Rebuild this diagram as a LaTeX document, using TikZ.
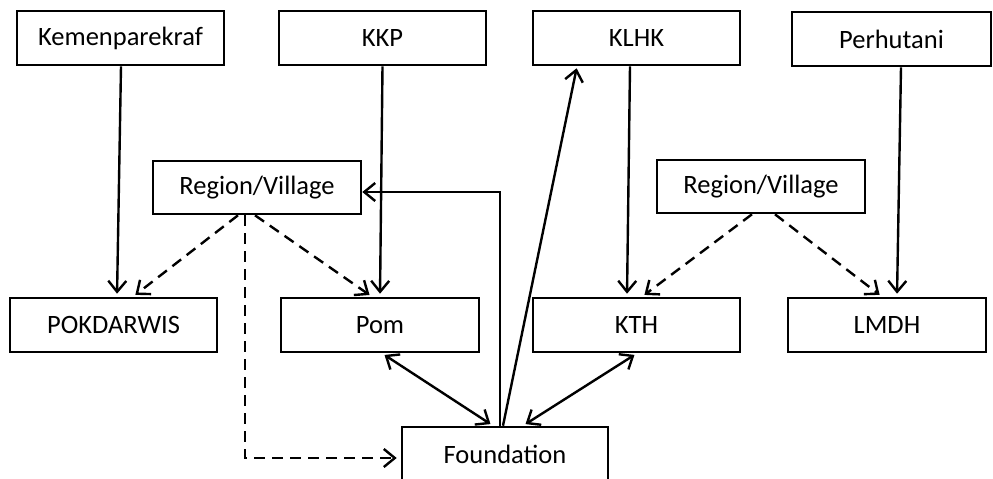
\documentclass[tikz,border=0pt]{standalone}
\usepackage{fontspec}
\setmainfont{Carlito}
\usetikzlibrary{arrows.meta}
\begin{document}
\begin{tikzpicture}[x=1pt,y=-1pt,
  box/.style={draw=black,line width=2.6pt,rectangle,minimum width=207pt,minimum height=54pt,inner sep=0pt,font=\fontsize{26.5}{30}\selectfont},
  conn/.style={line width=2.4pt,-{Straight Barb[length=11pt,width=18pt]}},
  bi/.style={line width=2.4pt,{Straight Barb[length=11pt,width=18pt]}-{Straight Barb[length=11pt,width=18pt]}},
  dsh/.style={conn,dash pattern=on 11pt off 7pt}]
\useasboundingbox (0,0) rectangle (993,479);
% top row
\node[box] (kem) at (120.5,38) {Kemenparekraf};
\node[box] (kkp) at (382.5,38) {KKP};
\node[box] (klhk) at (636.5,38) {KLHK};
\node[box,minimum width=199pt] (perh) at (891.5,39) {Perhutani};
% region/village
\node[box,minimum width=208pt,minimum height=53pt] (regL) at (257,187.5) {Region/Village};
\node[box,minimum width=208pt,minimum height=53pt] (regR) at (761,186.5) {Region/Village};
% lower row
\node[box] (pok) at (113.5,325) {POKDARWIS};
\node[box,minimum width=198pt] (pom) at (380,325) {Pom};
\node[box] (kth) at (636.5,325) {KTH};
\node[box,minimum width=198pt] (lmdh) at (887,325) {LMDH};
% foundation
\node[box,minimum width=206pt] (found) at (505,454) {Foundation};
% solid vertical arrows
\draw[conn,shorten >=3pt] ([xshift=0.5pt]kem.south) -- ([xshift=3.5pt]pok.north);
\draw[conn,shorten >=3pt] (kkp.south) -- (pom.north);
\draw[conn,shorten >=3pt] ([xshift=-6.5pt]klhk.south) -- ([xshift=-9.5pt]kth.north);
\draw[conn,shorten >=3pt] ([xshift=9.5pt]perh.south) -- ([xshift=10pt]lmdh.north);
% dashed arrows from left region/village
\draw[dsh,shorten >=3pt] ([xshift=-19pt]regL.south) -- ([xshift=19.5pt]pok.north);
\draw[dsh,shorten >=3pt] ([xshift=-2pt]regL.south) -- ([xshift=-8pt]pom.north);
\draw[dsh,shorten >=4pt] ([xshift=-12pt]regL.south) |- ([yshift=-4pt]found.west);
% dashed arrows from right region/village
\draw[dsh,shorten >=3pt] ([xshift=-9pt]regR.south) -- ([xshift=5.5pt]kth.north);
\draw[dsh,shorten >=3pt] ([xshift=14pt]regR.south) -- ([xshift=-5pt]lmdh.north);
% foundation arrows
\draw[conn] ([xshift=-5pt]found.north) |- ([yshift=-4.5pt]regL.east);
\draw[conn,shorten >=2pt] ([xshift=-2pt]found.north) -- ([xshift=-59.5pt]klhk.south);
\draw[bi,shorten <=3pt,shorten >=3pt] ([xshift=2pt]pom.south) -- ([xshift=-12pt]found.north);
\draw[bi,shorten <=3pt,shorten >=3pt] ([xshift=0.5pt]kth.south) -- ([xshift=18pt]found.north);
\end{tikzpicture}
\end{document}
